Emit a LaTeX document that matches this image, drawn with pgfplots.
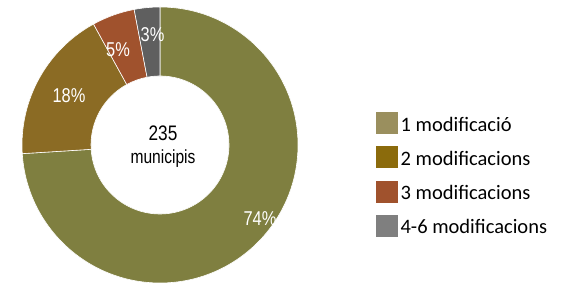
\documentclass[border=0pt]{standalone}
\usepackage{fontspec}
\setmainfont{Carlito}
\newfontfamily\narrow[FakeStretch=0.82]{Liberation Sans}
\usepackage{pgfplots}
\usepackage{pgfplotstable}
\pgfplotsset{compat=1.18}
\definecolor{slice0}{HTML}{7F7F40}
\definecolor{slice1}{HTML}{8B6B24}
\definecolor{slice2}{HTML}{A0522D}
\definecolor{slice3}{HTML}{5F5F5F}
\definecolor{leg0}{HTML}{9A8F5E}
\definecolor{leg1}{HTML}{8B6B0C}
\definecolor{leg2}{HTML}{A0522D}
\definecolor{leg3}{HTML}{7F7F7F}
% value, label position (pixels from top-left)
\pgfplotstableread[col sep=comma]{
value,lx,ly
74,260,219
18,69,96
5,118,50
3,152.5,34.5
}\piedata
\begin{document}
\begin{tikzpicture}
\begin{axis}[
  scale only axis, width=571pt, height=283pt,
  xmin=0, xmax=571, ymin=0, ymax=283,
  hide axis, clip=false,
  legend style={at={(axis cs:376,171)}, anchor=north west, draw=none, fill=none,
    font=\fontsize{20.5}{24}\selectfont, row sep=11pt, inner sep=0pt,
    nodes={inner xsep=3pt, inner ysep=0pt, text height=14pt, text depth=4pt}},
  legend cell align=left,
]
\path (axis cs:0,0) rectangle (axis cs:571,283);
\def\cum{0}
\pgfplotsforeachungrouped \i in {0,...,3}{%
  \pgfplotstablegetelem{\i}{value}\of\piedata
  \pgfmathsetmacro\va{\pgfplotsretval}%
  \pgfplotstablegetelem{\i}{lx}\of\piedata
  \pgfmathsetmacro\lx{\pgfplotsretval}%
  \pgfplotstablegetelem{\i}{ly}\of\piedata
  \pgfmathsetmacro\ly{283-\pgfplotsretval}%
  \pgfmathsetmacro\sa{90-3.6*\cum}%
  \pgfmathsetmacro\ea{90-3.6*(\cum+\va)}%
  \pgfmathsetmacro\eb{\ea+180}%
  \edef\temp{\noexpand\fill[slice\i, draw=white, line width=0.6pt]
    (axis cs:160,138) ++(\sa:138pt) arc[start angle=\sa, end angle=\ea, radius=138pt]
    -- ++(\eb:69pt) arc[start angle=\ea, end angle=\sa, radius=69pt] -- cycle;
    \noexpand\node[text=white, font=\noexpand\narrow\noexpand\fontsize{20}{22}\noexpand\selectfont] at (axis cs:\lx,\ly) {\va\noexpand\%};}%
  \temp
  \pgfmathsetmacro\cum{\cum+\va}%
}
\node[align=center, font=\narrow\fontsize{21}{26}\selectfont] at (axis cs:163,136) {235\\[-3pt]{\fontsize{19}{22}\selectfont municipis}};
\addlegendimage{legend image code/.code={\fill[leg0] (0pt,-7pt) rectangle (21pt,14pt);}}
\addlegendentry{1 modificació}
\addlegendimage{legend image code/.code={\fill[leg1] (0pt,-7pt) rectangle (21pt,14pt);}}
\addlegendentry{2 modificacions}
\addlegendimage{legend image code/.code={\fill[leg2] (0pt,-7pt) rectangle (21pt,14pt);}}
\addlegendentry{3 modificacions}
\addlegendimage{legend image code/.code={\fill[leg3] (0pt,-7pt) rectangle (21pt,14pt);}}
\addlegendentry{4-6 modificacions}
\end{axis}
\end{tikzpicture}
\end{document}
